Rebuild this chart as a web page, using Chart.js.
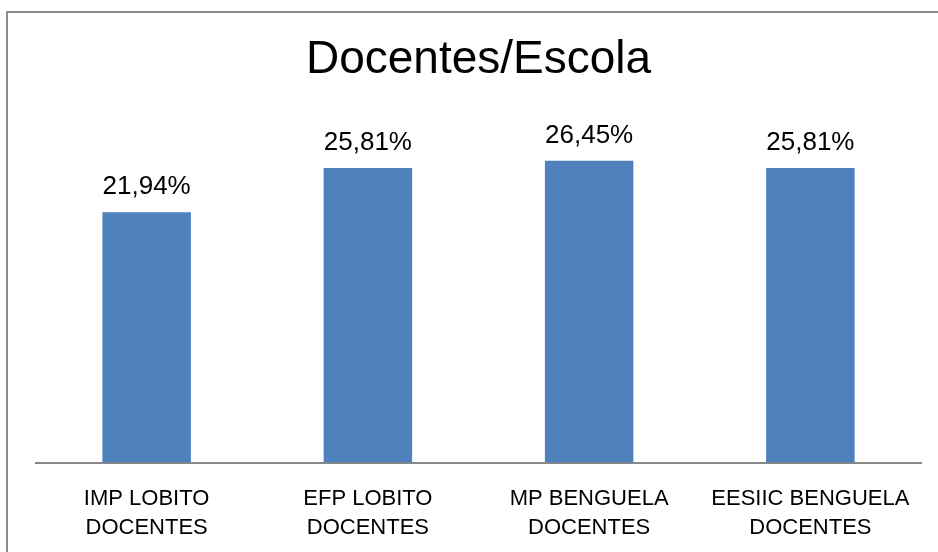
<!DOCTYPE html>
<html>
<head>
<meta charset="utf-8">
<script src="https://cdn.jsdelivr.net/npm/chart.js@4/dist/chart.umd.min.js"></script>
<style>
  body { margin: 0; background: #fff; overflow: hidden; }
  #frame { position: absolute; left: 6px; top: 11px; width: 960px; height: 600px; border-left: 2px solid #8a8a8a; border-top: 2px solid #8a8a8a; }
  #wrap { position: absolute; left: 0; top: 0; width: 938px; height: 564px; }
</style>
</head>
<body>
<div id="frame"></div>
<div id="wrap"><canvas id="chartBar"></canvas></div>
<script>
// chart data
var schools = [['IMP LOBITO', 'DOCENTES'], ['EFP LOBITO', 'DOCENTES'], ['MP BENGUELA', 'DOCENTES'], ['EESIIC BENGUELA', 'DOCENTES']];
var percents = [21.94, 25.81, 26.45, 25.81];
var chartTitle = 'Docentes/Escola';

// value labels above bars
var valueLabels = {
  id: 'valueLabels',
  afterDatasetsDraw: function (chart) {
    var ctx = chart.ctx;
    var meta = chart.getDatasetMeta(0);
    ctx.save();
    ctx.font = '26px "Liberation Sans", Arial, sans-serif';
    ctx.fillStyle = '#000';
    ctx.textAlign = 'center';
    ctx.textBaseline = 'alphabetic';
    meta.data.forEach(function (bar, i) {
      var txt = percents[i].toFixed(2).replace('.', ',') + '%';
      ctx.fillText(txt, bar.x, bar.y - 18);
    });
    ctx.restore();
  }
};

const dataBar = {
  labels: schools,
  datasets: [
    {
      label: 'Docentes',
      data: percents,
      backgroundColor: '#4f81bd',
      categoryPercentage: 0.8,
      barPercentage: 0.5,
    },
  ],
};

const configBar = {
  type: 'bar',
  data: dataBar,
  options: {
    responsive: false,
    animation: false,
    layout: { padding: { left: 36, right: 17, top: 33, bottom: 0 } },
    plugins: {
      legend: { display: false },
      tooltip: { enabled: false },
      title: {
        display: true,
        text: chartTitle,
        color: '#000',
        font: { family: '"Liberation Sans", Arial, sans-serif', size: 46, weight: 'normal', lineHeight: 1.2 },
        padding: { top: 0, bottom: 32 },
      },
    },
    scales: {
      x: {
        grid: { display: false, drawTicks: false },
        border: { color: '#888', width: 2 },
        ticks: {
          color: '#000',
          padding: 21,
          maxRotation: 0,
          font: { family: '"Liberation Sans", Arial, sans-serif', size: 22, lineHeight: 1.35 },
        },
      },
      y: {
        display: false,
        min: 0,
        max: 30,
      },
    },
  },
  plugins: [valueLabels],
};

var canvas = document.getElementById('chartBar');
canvas.width = 938;
canvas.height = 564;
var chartBar = new Chart(canvas, configBar);
</script>
</body>
</html>
